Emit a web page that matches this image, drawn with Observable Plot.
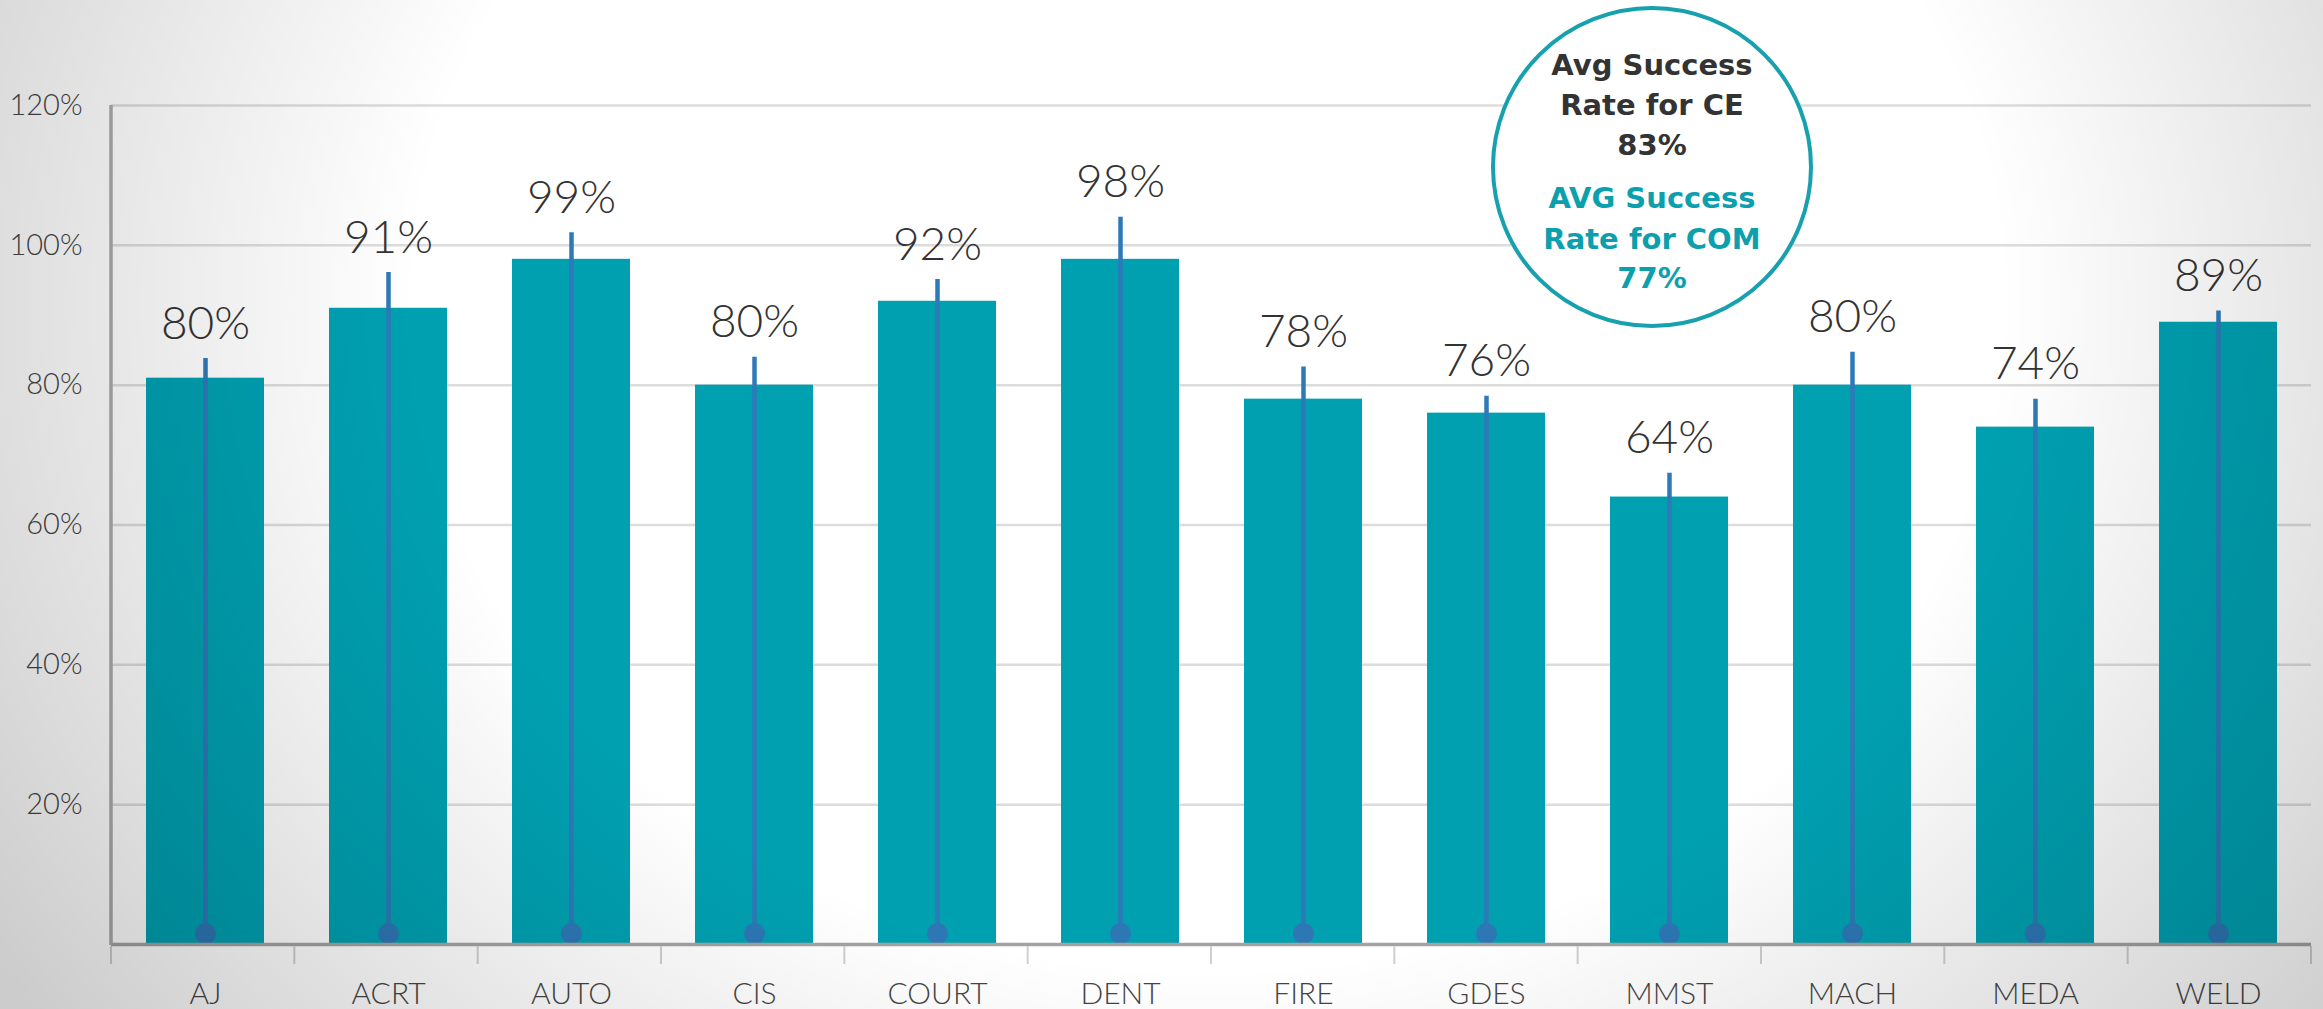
<!DOCTYPE html>
<html>
<head>
<meta charset="utf-8">
<script src="https://cdn.jsdelivr.net/npm/d3@7"></script>
<script src="https://cdn.jsdelivr.net/npm/@observablehq/plot@0.6"></script>
<style>
  html, body { margin: 0; padding: 0; background: #ffffff; }
  #wrap { position: relative; width: 2323px; height: 1009px; overflow: hidden; background: #ffffff; }
  #vig { position: absolute; left: 0; top: 0; width: 100%; height: 100%; pointer-events: none;
    background: radial-gradient(ellipse 62% 120% at 52% 30%, rgba(0,0,0,0) 55%, rgba(0,0,0,0.2) 100%); }
</style>
</head>
<body>
<div id="wrap"><div id="vig"></div></div>
<script>
// ---- data ----
const programs = ["AJ", "ACRT", "AUTO", "CIS", "COURT", "DENT", "FIRE", "GDES", "MMST", "MACH", "MEDA", "WELD"];
const successRate = [81, 91, 98, 80, 92, 98, 78, 76, 64, 80, 74, 89];
const markerValue = [83.8, 96.1, 101.8, 84, 95.1, 104, 82.6, 78.4, 67.4, 84.7, 78, 90.6];
const valueLabels = ["80%", "91%", "99%", "80%", "92%", "98%", "78%", "76%", "64%", "80%", "74%", "89%"];
const yTicks = [20, 40, 60, 80, 100, 120];
const calloutCE = ["Avg Success", "Rate for CE", "83%"];
const calloutCOM = ["AVG Success", "Rate for COM", "77%"];

const data = programs.map((p, i) => ({program: p, rate: successRate[i], marker: markerValue[i], label: valueLabels[i]}));

const W = 2323, H = 1009;
const mL = 111, mR = 12, mT = 105, mB = 65;

const chart = Plot.plot({
  width: W,
  height: H,
  marginLeft: mL,
  marginRight: mR,
  marginTop: mT,
  marginBottom: mB,
  style: {background: "transparent", fontFamily: "Lato, sans-serif", color: "#444"},
  x: {domain: programs, paddingInner: 0.356, paddingOuter: 0.178, label: null},
  y: {domain: [0, 120], label: null},
  marks: [
    Plot.gridY(yTicks, {stroke: "#dcdcdc", strokeOpacity: 1, strokeWidth: 2.5}),
    Plot.barY(data, {x: "program", y: "rate", fill: "#00a0b1"}),
    Plot.ruleX(data, {x: "program", y1: 0, y2: "marker", stroke: "#2e79b7", strokeWidth: 4.5}),
    Plot.dot(data, {x: "program", y: () => 0, dy: -11, r: 10.5, fill: "#2d77b4", stroke: "none"}),
    Plot.text(data, {x: "program", y: "marker", text: "label", dy: -20, lineAnchor: "bottom",
      fontSize: 46, fontWeight: 300, fill: "#333"}),
    Plot.ruleY([0], {stroke: "#a3a3a3", strokeWidth: 3.5}),
    Plot.axisY(yTicks, {tickSize: 0, tickPadding: 29, tickFormat: d => d + "%", fontSize: 29, fontWeight: 300, fill: "#444", label: null}),
    Plot.axisX({tickSize: 0, tickPadding: 38, fontSize: 30, fontWeight: 300, fill: "#444", label: null})
  ]
});

const svg = d3.select(chart);
const yS = chart.scale("y");
const y0 = yS.apply(0), yTop = yS.apply(120);
const plotW = W - mL - mR;
const step = plotW / programs.length;

// left axis line
svg.append("line")
  .attr("x1", mL).attr("x2", mL).attr("y1", yTop).attr("y2", y0 + 1)
  .attr("stroke", "#aaaaaa").attr("stroke-width", 3.5);

// band boundary ticks below baseline
const tg = svg.append("g");
for (let i = 0; i <= programs.length; i++) {
  const bx = mL + i * step;
  tg.append("line").attr("x1", bx).attr("x2", bx).attr("y1", y0 + 2).attr("y2", y0 + 20)
    .attr("stroke", "#cfcfcf").attr("stroke-width", 2);
}

// callout circle
const cx = 1652, cy = 167, cr = 159;
const cg = svg.append("g");
cg.append("circle").attr("cx", cx).attr("cy", cy).attr("r", cr)
  .attr("fill", "#ffffff").attr("stroke", "#17a0ae").attr("stroke-width", 4);
const lineYs = [75, 115, 155, 208, 249, 288];
calloutCE.concat(calloutCOM).forEach((t, i) => {
  cg.append("text").attr("x", cx).attr("y", lineYs[i]).attr("text-anchor", "middle")
    .attr("font-family", "'DejaVu Sans', sans-serif").attr("font-weight", 700).attr("font-size", 29)
    .attr("fill", i < 3 ? "#333333" : "#0ca0ae").text(t);
});

document.getElementById("wrap").insertBefore(chart, document.getElementById("vig"));
</script>
</body>
</html>
